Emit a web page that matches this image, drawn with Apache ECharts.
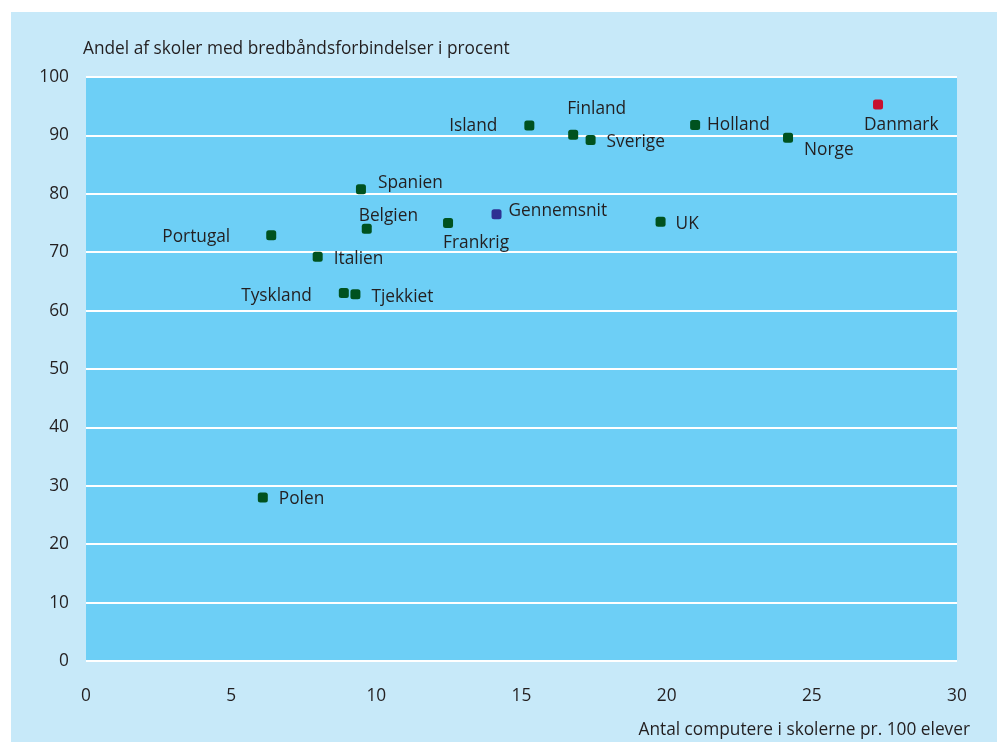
<!DOCTYPE html>
<html>
<head>
<meta charset="utf-8">
<style>
  html, body { margin: 0; padding: 0; background: #ffffff; }
  #chart { width: 997px; height: 742px; }
</style>
<script src="https://cdn.jsdelivr.net/npm/echarts@6/dist/echarts.min.js"></script>
</head>
<body>
<div id="chart"></div>
<script>
// data
const countries = ['Island', 'Finland', 'Sverige', 'Holland', 'Norge', 'Danmark',
  'Spanien', 'Belgien', 'Portugal', 'Italien', 'Tyskland', 'Tjekkiet',
  'Frankrig', 'Gennemsnit', 'UK', 'Polen']
const computers = [15.27, 16.78, 17.38, 20.98, 24.18, 27.28,
  9.47, 9.67, 6.38, 7.98, 8.88, 9.28,
  12.47, 14.14, 19.79, 6.09]
const broadband = [91.7, 90.1, 89.2, 91.8, 89.6, 95.3,
  80.8, 74.0, 72.9, 69.2, 63.0, 62.8,
  75.0, 76.5, 75.2, 28.0]
const xTicks = [0, 5, 10, 15, 20, 25, 30]
const yTicks = [0, 10, 20, 30, 40, 50, 60, 70, 80, 90, 100]

const yTitle = 'Andel af skoler med bredbåndsforbindelser i procent'
const xTitle = 'Antal computere i skolerne pr. 100 elever'

// label placement for each point: [align, dx, dy]
const labelPlace = [
  ['right', -32, 1], ['left', -6, -26], ['left', 16, 2], ['left', 12, 0],
  ['left', 16, 12], ['left', -14, 21], ['left', 17, -6], ['left', -8, -13],
  ['right', -41, 2], ['left', 16, 2], ['right', -32, 3], ['left', 16, 3],
  ['left', -5, 20], ['left', 12, -3], ['left', 15, 2], ['left', 16, 2]
]

const FONT = '"Open Sans", sans-serif'
const SIZE = 17.3
const TEXT = '#231f20'
const green = '#00521f'
const colorOf = name => name === 'Danmark' ? '#c8102e' : (name === 'Gennemsnit' ? '#2e3192' : green)

const chart = echarts.init(document.getElementById('chart'))

const points = countries.map((name, i) => ({
  name: name,
  value: [computers[i], broadband[i]],
  itemStyle: { color: colorOf(name), opacity: 1 },
  label: {
    show: true,
    formatter: name,
    position: 'inside',
    align: labelPlace[i][0],
    verticalAlign: 'middle',
    offset: [labelPlace[i][1], labelPlace[i][2]],
    color: TEXT,
    fontFamily: FONT,
    fontSize: SIZE
  }
}))

chart.setOption({
  animation: false,
  backgroundColor: '#ffffff',
  graphic: [
    {
      type: 'rect',
      z: -10,
      shape: { x: 11, y: 12, width: 986, height: 730 },
      style: { fill: '#c7e9f9' }
    },
    {
      type: 'text',
      left: 83,
      top: 41,
      style: { text: yTitle, fill: TEXT, font: SIZE + 'px ' + FONT }
    },
    {
      type: 'text',
      right: 27,
      top: 722,
      style: { text: xTitle, fill: TEXT, font: SIZE + 'px ' + FONT }
    }
  ],
  grid: {
    left: 86,
    right: 40,
    top: 77,
    bottom: 81,
    show: true,
    backgroundColor: '#6dcff6',
    borderWidth: 0
  },
  xAxis: {
    type: 'value',
    min: 0,
    max: 30,
    interval: 5,
    axisLine: { show: false },
    axisTick: { show: false },
    splitLine: { show: false },
    axisLabel: {
      margin: 27,
      color: TEXT,
      fontFamily: FONT,
      fontSize: SIZE,
      formatter: v => xTicks.includes(v) ? String(v) : ''
    }
  },
  yAxis: {
    type: 'value',
    min: 0,
    max: 100,
    interval: 10,
    axisLine: { show: false },
    axisTick: { show: false },
    splitLine: { show: true, lineStyle: { color: '#ffffff', width: 2 } },
    axisLabel: {
      margin: 17,
      color: TEXT,
      fontFamily: FONT,
      fontSize: SIZE,
      formatter: v => yTicks.includes(v) ? String(v) : ''
    }
  },
  series: [{
    type: 'scatter',
    symbol: 'roundRect',
    symbolSize: 10,
    data: points
  }]
})
</script>
</body>
</html>
